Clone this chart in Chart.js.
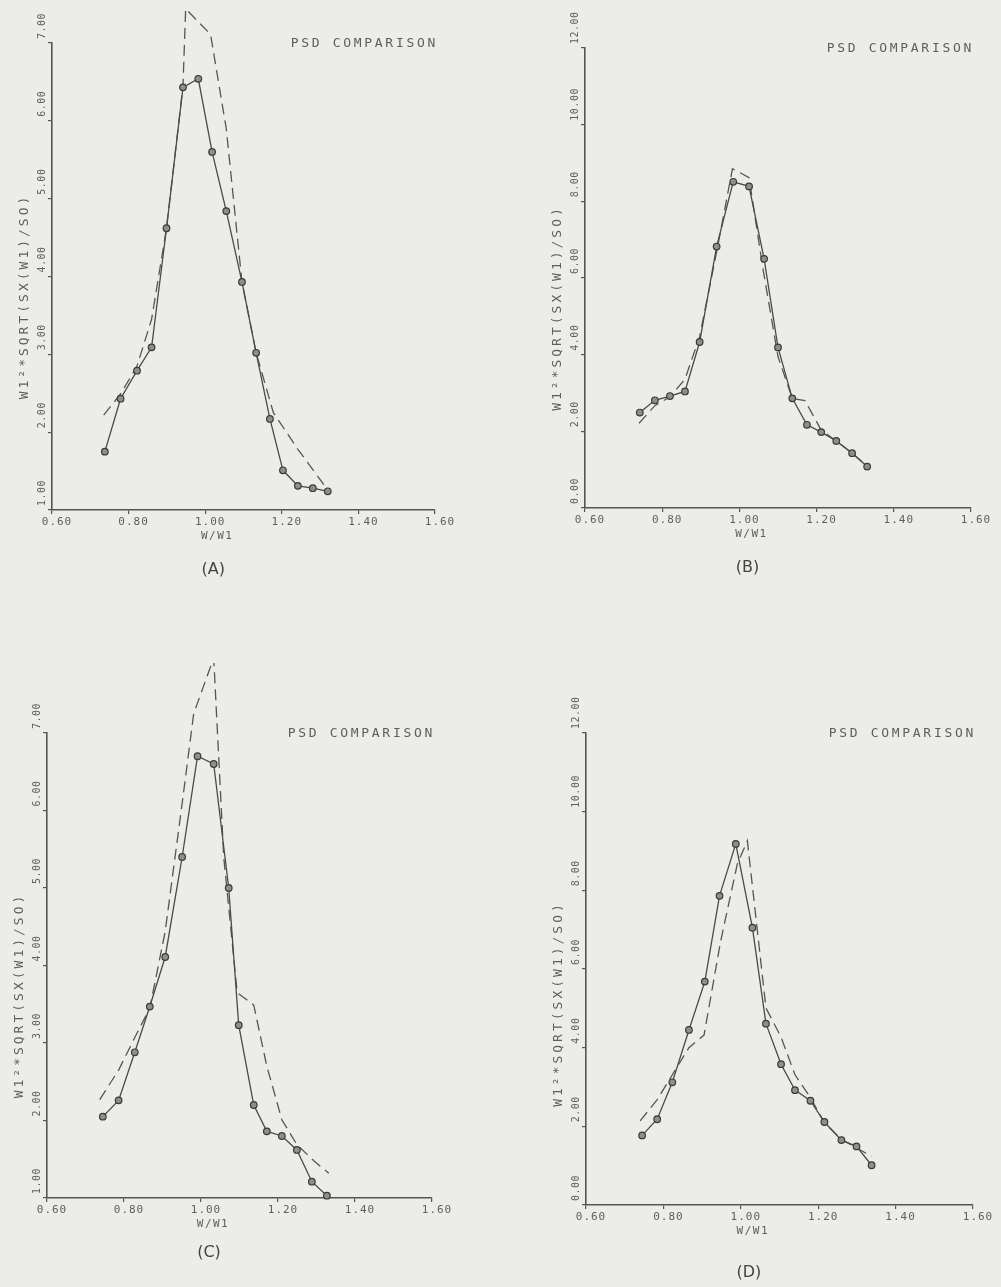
<!DOCTYPE html>
<html><head><meta charset="utf-8">
<script src="https://cdn.jsdelivr.net/npm/chart.js@4.4.1/dist/chart.umd.min.js"></script>
<style>
html,body{margin:0;padding:0;background:#ecece9;}
body{width:1001px;height:1287px;position:relative;overflow:hidden;}
canvas{position:absolute;}
</style></head><body>
<canvas id="cA"></canvas><canvas id="cB"></canvas><canvas id="cC"></canvas><canvas id="cD"></canvas>
<script>
// ---- tick labels / texts ----
const xTicks = [0.6, 0.8, 1.0, 1.2, 1.4, 1.6];
const xTickLabels = ["0.60", "0.80", "1.00", "1.20", "1.40", "1.60"];
const yTicksAC = [1, 2, 3, 4, 5, 6, 7];
const yTickLabelsAC = ["1.00", "2.00", "3.00", "4.00", "5.00", "6.00", "7.00"];
const yTicksBD = [0, 2, 4, 6, 8, 10, 12];
const yTickLabelsBD = ["0.00", "2.00", "4.00", "6.00", "8.00", "10.00", "12.00"];
const panelCaptions = ["(A)", "(B)", "(C)", "(D)"];
const chartTitle = "PSD COMPARISON";
const xAxisTitle = "W/W1";
const yAxisTitle = "W1\u00B2*SQRT(SX(W1)/SO)";

// ---- panel A ----
const aX = [0.738, 0.779, 0.822, 0.860, 0.899, 0.942, 0.982, 1.018, 1.055, 1.096, 1.133, 1.169, 1.203, 1.242, 1.281, 1.320];
const aSolid = [1.75, 2.43, 2.79, 3.09, 4.62, 6.43, 6.54, 5.60, 4.84, 3.93, 3.02, 2.17, 1.51, 1.31, 1.28, 1.24];
const aDashX = [0.735, 0.779, 0.822, 0.860, 0.899, 0.942, 0.949, 1.014, 1.055, 1.096, 1.133, 1.178, 1.242, 1.281, 1.318];
const aDash = [2.22, 2.49, 2.85, 3.45, 4.62, 6.45, 7.44, 7.11, 5.90, 3.93, 3.02, 2.25, 1.78, 1.52, 1.27];

// ---- panel B ----
const bX = [0.742, 0.781, 0.820, 0.859, 0.897, 0.941, 0.984, 1.025, 1.064, 1.100, 1.137, 1.175, 1.212, 1.251, 1.292, 1.331];
const bSolid = [2.49, 2.81, 2.92, 3.04, 4.33, 6.82, 8.51, 8.39, 6.50, 4.19, 2.86, 2.17, 1.98, 1.75, 1.43, 1.08];
const bDashX = [0.740, 0.781, 0.820, 0.859, 0.897, 0.941, 0.982, 1.025, 1.060, 1.100, 1.137, 1.170, 1.212, 1.251, 1.292, 1.331];
const bDash = [2.21, 2.67, 2.90, 3.36, 4.47, 6.68, 8.85, 8.62, 6.30, 3.95, 2.86, 2.80, 2.03, 1.75, 1.43, 1.10];

// ---- panel C ----
const cX = [0.745, 0.786, 0.828, 0.867, 0.907, 0.951, 0.991, 1.033, 1.072, 1.098, 1.137, 1.171, 1.210, 1.249, 1.288, 1.327];
const cSolid = [2.05, 2.26, 2.88, 3.47, 4.11, 5.40, 6.70, 6.60, 5.00, 3.23, 2.20, 1.86, 1.80, 1.62, 1.21, 1.03];
const cDashX = [0.737, 0.786, 0.828, 0.867, 0.907, 0.951, 0.981, 1.033, 1.059, 1.094, 1.137, 1.171, 1.210, 1.249, 1.293, 1.332];
const cDash = [2.27, 2.65, 3.07, 3.45, 4.44, 6.09, 7.25, 7.97, 5.40, 3.65, 3.49, 2.70, 2.01, 1.69, 1.48, 1.32];

// ---- panel D ----
const dX = [0.745, 0.784, 0.823, 0.866, 0.907, 0.945, 0.987, 1.030, 1.065, 1.104, 1.140, 1.180, 1.216, 1.260, 1.299, 1.338];
const dSolid = [1.77, 2.18, 3.12, 4.45, 5.68, 7.86, 9.18, 7.05, 4.61, 3.58, 2.92, 2.65, 2.11, 1.65, 1.49, 1.01];
const dDashX = [0.740, 0.784, 0.823, 0.866, 0.905, 0.948, 0.991, 1.017, 1.065, 1.104, 1.140, 1.180, 1.216, 1.260, 1.299, 1.338];
const dDash = [2.14, 2.68, 3.31, 4.00, 4.32, 6.71, 8.67, 9.26, 5.01, 4.27, 3.31, 2.73, 2.09, 1.67, 1.45, 1.24];

const INK = '#4a4a4a';
const TXT = '#5e5e5e';

function pts(xs, ys) { return xs.map((x, i) => ({ x: x, y: ys[i] })); }

function makePanel(id, frame, sx, sy, dx, dy, yTicks, yLabels, yMin, yMax, caption, titleShift, capOffset) {
  const YW = 52, RP = 40, XH = 95;
  const padTop = Math.min(frame.top, 70);
  const cv = document.getElementById(id);
  const w = (frame.right - frame.left) + YW + RP;
  const h = padTop + (frame.bottom - frame.top) + XH;
  cv.width = w; cv.height = h;
  cv.style.left = (frame.left - YW) + 'px';
  cv.style.top = (frame.top - padTop) + 'px';
  cv.style.width = w + 'px'; cv.style.height = h + 'px';

  const textPlugin = {
    id: 'psdText',
    afterDraw(chart) {
      const c = chart.ctx, xs = chart.scales.x, ys = chart.scales.y, a = chart.chartArea;
      const ls = v => { if ('letterSpacing' in c) c.letterSpacing = v; };
      c.save();
      c.fillStyle = TXT;
      c.textBaseline = 'middle';
      // x tick labels
      c.font = '11px "DejaVu Sans Mono"'; ls('1px'); c.textAlign = 'center';
      xTicks.forEach((v, i) => c.fillText(xTickLabels[i], xs.getPixelForValue(v) + 5, a.bottom + 12));
      // x title
      ls('1.5px');
      c.fillText(xAxisTitle, xs.getPixelForValue(1.0) + 12, a.bottom + 26);
      // y tick labels (rotated)
      c.font = '10px "DejaVu Sans Mono"'; ls('0.5px'); c.textAlign = 'left';
      yTicks.forEach((v, i) => {
        const y = ys.getPixelForValue(v);
        c.save(); c.translate(a.left - 10, y - 4); c.rotate(-Math.PI / 2);
        c.fillText(yLabels[i], 0, 0); c.restore();
      });
      // y title
      c.font = '13px "DejaVu Sans Mono"'; ls('3px'); c.textAlign = 'center';
      c.save(); c.translate(a.left - 27, (a.top + a.bottom) / 2 + titleShift); c.rotate(-Math.PI / 2);
      c.fillText(yAxisTitle, 0, 0); c.restore();
      // chart title
      c.textAlign = 'right'; ls('2.7px');
      c.fillText(chartTitle, a.right + 3, a.top + 1);
      // caption
      c.font = '16px "DejaVu Sans"'; ls('0px'); c.textAlign = 'center'; c.fillStyle = '#444';
      c.fillText(caption, xs.getPixelForValue(1.0) + 8, a.bottom + capOffset);
      c.restore();
    }
  };

  return new Chart(cv, {
    type: 'scatter',
    data: {
      datasets: [
        { data: pts(dx, dy), showLine: true, borderColor: '#555', borderWidth: 1.3, borderDash: [11, 6],
          pointRadius: 0, clip: false, order: 2 },
        { data: pts(sx, sy), showLine: true, borderColor: INK, borderWidth: 1.3,
          pointRadius: 3.3, pointStyle: 'circle', pointBackgroundColor: '#8e8e8e',
          pointBorderColor: '#3a3a3a', pointBorderWidth: 1.2, clip: false, order: 1 }
      ]
    },
    options: {
      responsive: false, animation: false, maintainAspectRatio: false,
      devicePixelRatio: 1,
      layout: { padding: { left: 0, top: padTop, right: RP, bottom: 0 } },
      plugins: { legend: { display: false }, tooltip: { enabled: false } },
      scales: {
        x: {
          type: 'linear', min: 0.6, max: 1.6,
          afterBuildTicks: s => { s.ticks = xTicks.map(v => ({ value: v })); },
          afterFit: s => { s.height = XH; s.paddingLeft = 0; s.paddingRight = 0; },
          ticks: { display: false },
          grid: { display: true, drawOnChartArea: false, drawTicks: true, tickLength: 4, color: '#555', lineWidth: 1.2 },
          border: { display: true, color: '#555', width: 1.6 }
        },
        y: {
          type: 'linear', min: yMin, max: yMax,
          afterBuildTicks: s => { s.ticks = yTicks.map(v => ({ value: v })); },
          afterFit: s => { s.width = YW; s.paddingTop = 0; s.paddingBottom = 0; },
          ticks: { display: false },
          grid: { display: true, drawOnChartArea: false, drawTicks: true, tickLength: 4, color: '#555', lineWidth: 1.2 },
          border: { display: true, color: '#555', width: 1.6 }
        }
      }
    },
    plugins: [textPlugin]
  });
}

makePanel('cA', { left: 52, right: 435, top: 43, bottom: 510 }, aX, aSolid, aDashX, aDash, yTicksAC, yTickLabelsAC, 1, 7, panelCaptions[0], 20, 60);
makePanel('cB', { left: 585, right: 971, top: 48, bottom: 508 }, bX, bSolid, bDashX, bDash, yTicksBD, yTickLabelsBD, 0, 12, panelCaptions[1], 30, 60);
makePanel('cC', { left: 47, right: 432, top: 733, bottom: 1198 }, cX, cSolid, cDashX, cDash, yTicksAC, yTickLabelsAC, 1, 7, panelCaptions[2], 30, 55);
makePanel('cD', { left: 586, right: 973, top: 733, bottom: 1205 }, dX, dSolid, dDashX, dDash, yTicksBD, yTickLabelsBD, 0, 12, panelCaptions[3], 35, 68);
</script>
</body></html>
